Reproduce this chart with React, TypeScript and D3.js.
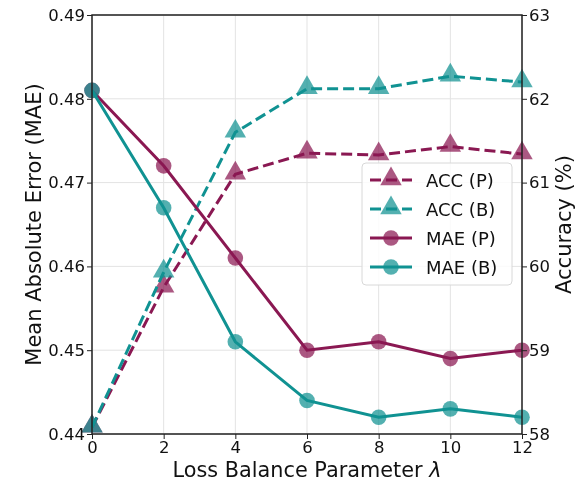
import React, { useEffect, useRef } from 'react';
import * as d3 from 'd3';

const lambdas = [0, 2, 4, 6, 8, 10, 12];
const maeP = [0.481, 0.472, 0.461, 0.45, 0.451, 0.449, 0.45];
const maeB = [0.481, 0.467, 0.451, 0.444, 0.442, 0.443, 0.442];
const accP = [58.08, 59.75, 61.1, 61.35, 61.33, 61.43, 61.34];
const accB = [58.08, 59.93, 61.6, 62.12, 62.12, 62.27, 62.2];
const maeTicks = [0.44, 0.45, 0.46, 0.47, 0.48, 0.49];
const accTicks = [58, 59, 60, 61, 62, 63];
const xTicks = [0, 2, 4, 6, 8, 10, 12];

const PURPLE = '#8a1852';
const TEAL = '#109292';

export default function App() {
  const ref = useRef<SVGSVGElement>(null);

  useEffect(() => {
    const svg = d3.select(ref.current);
    svg.selectAll('*').remove();
    const W = 579, H = 486;
    const m = { left: 92, right: 57, top: 15, bottom: 52 };
    const x = d3.scaleLinear().domain([0, 12]).range([m.left, W - m.right]);
    const yL = d3.scaleLinear().domain([0.44, 0.49]).range([H - m.bottom, m.top]);
    const yR = d3.scaleLinear().domain([58, 63]).range([H - m.bottom, m.top]);
    const font = 'DejaVu Sans, sans-serif';

    // grid
    const grid = svg.append('g').attr('stroke', '#e3e3e3').attr('stroke-width', 1);
    xTicks.forEach(t => grid.append('line').attr('x1', x(t)).attr('x2', x(t)).attr('y1', m.top).attr('y2', H - m.bottom));
    maeTicks.forEach(t => grid.append('line').attr('x1', m.left).attr('x2', W - m.right).attr('y1', yL(t)).attr('y2', yL(t)));

    const lineL = d3.line<number>().x((_, i) => x(lambdas[i])).y(d => yL(d));
    const lineR = d3.line<number>().x((_, i) => x(lambdas[i])).y(d => yR(d));
    const tri = d3.symbol().type(d3.symbolTriangle).size(200);

    const drawSeries = (vals: number[], line: any, y: any, color: string, dashed: boolean, marker: 'c' | 't') => {
      svg.append('path').attr('d', line(vals)).attr('fill', 'none').attr('stroke', color)
        .attr('stroke-width', 3).attr('stroke-dasharray', dashed ? '11,5' : null);
      vals.forEach((v, i) => {
        if (marker === 'c') {
          svg.append('circle').attr('cx', x(lambdas[i])).attr('cy', y(v)).attr('r', 7.8)
            .attr('fill', color).attr('fill-opacity', 0.72);
        } else {
          svg.append('path').attr('d', tri()).attr('transform', `translate(${x(lambdas[i])},${y(v) - 1})`)
            .attr('fill', color).attr('fill-opacity', 0.72);
        }
      });
    };

    drawSeries(accP, lineR, yR, PURPLE, true, 't');
    drawSeries(accB, lineR, yR, TEAL, true, 't');
    drawSeries(maeP, lineL, yL, PURPLE, false, 'c');
    drawSeries(maeB, lineL, yL, TEAL, false, 'c');

    // frame
    svg.append('rect').attr('x', m.left).attr('y', m.top).attr('width', W - m.right - m.left)
      .attr('height', H - m.bottom - m.top).attr('fill', 'none').attr('stroke', '#222').attr('stroke-width', 1.5);

    // axes
    const axL = svg.append('g').attr('transform', `translate(${m.left},0)`)
      .call(d3.axisLeft(yL).tickValues(maeTicks).tickFormat(d3.format('.2f')).tickSize(5).tickPadding(2));
    const axR = svg.append('g').attr('transform', `translate(${W - m.right},0)`)
      .call(d3.axisRight(yR).tickValues(accTicks).tickFormat(d3.format('d')).tickSize(5).tickPadding(2));
    const axB = svg.append('g').attr('transform', `translate(0,${H - m.bottom})`)
      .call(d3.axisBottom(x).tickValues(xTicks).tickFormat(d3.format('d')).tickSize(5).tickPadding(2));
    [axL, axR, axB].forEach(a => {
      a.select('.domain').remove();
      a.selectAll('text').attr('font-family', font).attr('font-size', 16.5).attr('fill', '#111');
      a.selectAll('line').attr('stroke', '#222');
    });

    svg.append('text').attr('x', (m.left + W - m.right) / 2).attr('y', 477).attr('text-anchor', 'middle')
      .attr('font-family', font).attr('font-size', 20.8).attr('fill', '#111')
      .text('Loss Balance Parameter ')
      .append('tspan').attr('font-style', 'italic').text('λ');
    svg.append('text').attr('transform', `translate(41,${(m.top + H - m.bottom) / 2}) rotate(-90)`)
      .attr('text-anchor', 'middle').attr('font-family', font).attr('font-size', 21).attr('fill', '#111')
      .text('Mean Absolute Error (MAE)');
    svg.append('text').attr('transform', `translate(571,${(m.top + H - m.bottom) / 2}) rotate(-90)`)
      .attr('text-anchor', 'middle').attr('font-family', font).attr('font-size', 21).attr('fill', '#111')
      .text('Accuracy (%)');

    // legend
    const lg = svg.append('g');
    lg.append('rect').attr('x', 362).attr('y', 163).attr('width', 150).attr('height', 122).attr('rx', 4)
      .attr('fill', 'white').attr('fill-opacity', 0.85).attr('stroke', '#d8d8d8');
    const items = [
      { label: 'ACC (P)', color: PURPLE, dashed: true, marker: 't' },
      { label: 'ACC (B)', color: TEAL, dashed: true, marker: 't' },
      { label: 'MAE (P)', color: PURPLE, dashed: false, marker: 'c' },
      { label: 'MAE (B)', color: TEAL, dashed: false, marker: 'c' },
    ];
    items.forEach((it, i) => {
      const cy = 180 + i * 29;
      lg.append('line').attr('x1', 370).attr('x2', 412).attr('y1', cy).attr('y2', cy)
        .attr('stroke', it.color).attr('stroke-width', 3).attr('stroke-dasharray', it.dashed ? '11,5' : null);
      if (it.marker === 'c') {
        lg.append('circle').attr('cx', 391).attr('cy', cy).attr('r', 7.8).attr('fill', it.color).attr('fill-opacity', 0.72);
      } else {
        lg.append('path').attr('d', tri()).attr('transform', `translate(391,${cy - 1})`).attr('fill', it.color).attr('fill-opacity', 0.72);
      }
      lg.append('text').attr('x', 426).attr('y', cy + 6.5).attr('font-family', font).attr('font-size', 18)
        .attr('fill', '#111').text(it.label);
    });
  }, []);

  return (
    <div>
      <svg ref={ref} width={579} height={486} style={{ display: 'block', position: 'fixed', left: 0, top: 0 }} />
    </div>
  );
}
